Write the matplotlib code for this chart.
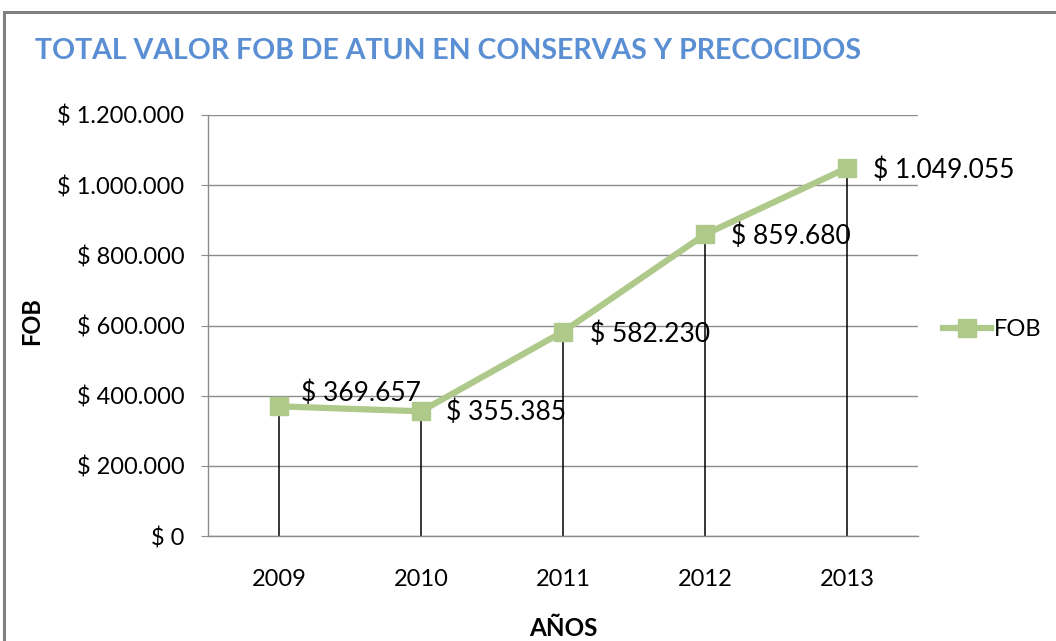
import matplotlib
matplotlib.use("Agg")
import matplotlib.pyplot as plt
from matplotlib.patches import Rectangle
from matplotlib.ticker import FuncFormatter
from matplotlib.lines import Line2D

plt.rcParams['font.family'] = ['Lato', 'DejaVu Sans']

years = ['2009', '2010', '2011', '2012', '2013']
fob = [369657, 355385, 582230, 859680, 1049055]
labels = ['$ 369.657', '$ 355.385', '$ 582.230', '$ 859.680', '$ 1.049.055']
label_offsets = [(22, 13), (25, -1), (27, -3), (26, -2), (26, -2)]

GREEN = '#AFC98A'
GRID = '#8C8C8C'

fig = plt.figure(figsize=(10.56, 6.41), dpi=100)
fig.patches.append(Rectangle((4/1056, -0.02), 1.1, (641-12)/641 + 0.02, transform=fig.transFigure,
                             fill=False, edgecolor='#808080', linewidth=2.2))

ax = fig.add_axes([208/1056, (641-536)/641, (918-208)/1056, (536-115)/641])
x = list(range(len(years)))

ax.set_xlim(-0.5, len(years) - 0.5)
ax.set_ylim(0, 1200000)
ax.set_yticks(range(0, 1200001, 200000))

def fmt(v, pos):
    v = int(round(v))
    if v == 0:
        return '$ 0'
    return '$ ' + f'{v:,}'.replace(',', '.')

ax.yaxis.set_major_formatter(FuncFormatter(fmt))
ax.grid(axis='y', color=GRID, linewidth=1)
ax.set_axisbelow(True)

ax.vlines(x, 0, fob, color='black', linewidth=1.1, zorder=2)
ax.plot(x, fob, color=GREEN, linewidth=4.5, marker='s', markersize=13, zorder=3,
        solid_capstyle='round')

for xi, yi, lab, (dx, dy) in zip(x, fob, labels, label_offsets):
    ax.annotate(lab, (xi, yi), xytext=(dx * 0.72, dy * 0.72), textcoords='offset points',
                ha='left', va='center', fontsize=19, color='black')

ax.set_xticks(x)
ax.set_xticklabels(years)
ax.tick_params(axis='x', length=0, pad=24, labelsize=17)
ax.tick_params(axis='y', length=5, color=GRID, labelsize=17, pad=12)
for s in ['top', 'right']:
    ax.spines[s].set_visible(False)
for s in ['left', 'bottom']:
    ax.spines[s].set_color(GRID)
    ax.spines[s].set_linewidth(1)

fig.text(35/1056, 1 - 51/641, 'TOTAL VALOR FOB DE ATUN EN CONSERVAS Y PRECOCIDOS',
         ha='left', va='center', fontsize=20.5, fontweight='bold', color='#5B8FD3')
fig.text(32/1056, 1 - 321/641, 'FOB', rotation=90, ha='center', va='center',
         fontsize=17, fontweight='bold')
fig.text(563/1056, 1 - 628/641, 'AÑOS', ha='center', va='center',
         fontsize=17.5, fontweight='bold')

handle = Line2D([], [], color=GREEN, linewidth=4.5, marker='s', markersize=13)
fig.legend([handle], ['FOB'], loc='center left', bbox_to_anchor=(934/1056, 1 - 330/641),
           frameon=False, fontsize=17, handlelength=2.0, handletextpad=0.15, borderaxespad=0)

fig.savefig('out.png', dpi=100)
